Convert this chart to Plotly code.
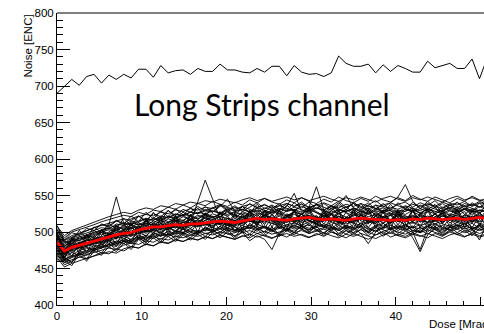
import plotly.graph_objects as go

dose = [0.0, 0.875, 1.75, 2.625, 3.5, 4.375, 5.25, 6.125, 7.0, 7.875,
        8.75, 9.625, 10.5, 11.375, 12.25, 13.125, 14.0, 14.875, 15.75, 16.625,
        17.5, 18.375, 19.25, 20.125, 21.0, 21.875, 22.75, 23.625, 24.5, 25.375,
        26.25, 27.125, 28.0, 28.875, 29.75, 30.625, 31.5, 32.375, 33.25, 34.125,
        35.0, 35.875, 36.75, 37.625, 38.5, 39.375, 40.25, 41.125, 42.0, 42.875,
        43.75, 44.625, 45.5, 46.375, 47.25, 48.125, 49.0, 49.875, 50.75]

long_strip = [690, 699, 709, 701, 713, 716, 704, 715, 709, 716, 711, 723, 723, 712, 728, 718, 721, 722, 716, 724,
              720, 720, 730, 722, 722, 719, 718, 724, 719, 727, 727, 714, 728, 719, 716, 717, 713, 718, 741, 731,
              727, 727, 730, 718, 729, 720, 728, 724, 719, 719, 734, 725, 728, 731, 724, 724, 737, 710, 737]

mean_noise = [486, 474, 479, 482, 484, 488, 491, 494, 496, 498, 499, 503, 505, 507, 507, 508, 510, 509, 511, 511,
              513, 514, 515, 514, 513, 515, 517, 519, 517, 518, 517, 516, 518, 519, 520, 518, 517, 518, 517, 516,
              518, 519, 518, 517, 517, 516, 517, 516, 518, 517, 519, 518, 517, 518, 519, 517, 518, 520, 518]

ch01 = [496,480,490,488,495,492,502,497,508,503,510,505,515,512,520,514,518,523,516,521,525,519,524,530,520,526,523,529,521,527,530,522,528,524,533,526,520,529,525,531,524,528,533,522,530,526,521,529,532,525,527,534,523,529,526,531,524,530,527]
ch02 = [478,462,468,475,470,480,483,479,488,484,490,493,489,497,500,494,502,499,505,498,503,507,500,506,502,509,504,511,506,500,508,503,510,505,499,511,507,502,509,504,510,506,501,508,512,503,507,510,505,499,508,512,506,503,510,507,512,505,509]
ch03 = [485,470,482,478,490,486,484,499,492,505,497,508,501,513,503,510,516,505,519,508,516,522,509,518,512,524,514,521,510,525,513,520,527,515,523,511,526,518,512,527,516,523,512,528,519,511,524,515,529,513,522,517,526,512,523,528,514,525,519]
ch04 = [500,488,493,497,502,505,510,507,515,512,518,522,516,525,521,529,523,531,527,535,529,533,538,530,536,528,534,540,532,537,531,539,535,541,533,538,530,536,542,534,539,531,537,543,535,532,538,541,534,540,536,543,533,539,537,542,535,540,538]
ch05 = [472,458,466,470,468,475,478,483,480,488,484,491,487,494,490,497,493,499,495,502,498,500,505,497,499,503,506,501,508,502,498,505,501,507,510,502,499,506,503,497,504,508,500,506,503,498,505,509,502,500,507,503,499,506,510,501,505,508,503]
ch06 = [490,476,485,480,488,494,489,498,502,495,506,500,510,503,512,507,500,514,509,517,511,506,519,512,508,521,515,510,523,517,512,524,516,510,522,514,519,525,513,520,527,515,511,523,518,512,525,520,514,522,518,525,513,521,516,524,519,527,515]
ch07 = [484,472,476,485,480,490,486,495,491,500,496,504,498,507,503,511,505,516,512,540,571,545,518,510,515,512,519,514,520,516,522,513,519,524,515,521,517,525,511,520,516,523,518,512,521,526,514,519,523,517,513,521,525,516,520,514,522,518,524]
ch08 = [482,466,478,484,486,483,495,510,548,512,497,505,500,509,504,512,506,513,508,515,510,517,512,509,516,511,518,513,520,515,511,518,514,521,516,512,519,515,522,517,513,520,516,512,519,523,514,518,521,516,520,515,522,517,513,520,516,523,518]
ch09 = [488,478,474,486,483,491,488,497,493,501,497,506,502,510,505,503,512,508,514,510,516,511,518,513,510,517,521,516,523,519,514,521,517,524,519,515,522,518,525,520,516,523,519,514,521,517,524,512,500,476,505,518,514,521,517,523,519,515,522]
ch10 = [480,465,458,474,479,476,484,489,486,494,490,499,495,503,499,506,502,509,505,512,508,515,510,506,513,509,516,512,519,514,510,517,513,520,515,511,518,514,521,516,512,519,515,521,517,513,520,516,522,518,514,521,517,523,519,515,522,518,525]
ch11 = [492,480,487,490,494,497,500,503,501,508,506,512,509,515,512,518,515,521,517,523,519,525,521,527,523,520,526,522,529,524,530,535,553,528,534,562,530,524,531,527,522,529,526,532,527,524,530,528,533,526,531,527,534,529,525,532,528,535,530]
ch12 = [505,492,500,503,507,510,514,517,520,523,521,527,524,530,528,534,531,537,533,539,536,542,538,535,541,537,544,540,546,541,538,544,540,547,542,539,545,541,548,543,540,546,542,549,544,541,547,543,550,545,542,548,544,540,546,542,549,544,541]
ch13 = [470,455,460,466,463,468,472,470,477,474,480,478,484,481,487,485,490,487,492,489,494,491,496,493,490,495,492,498,494,491,497,493,499,495,492,498,494,500,496,492,498,494,490,496,500,493,497,494,499,495,492,498,494,500,496,493,499,495,497]
ch14 = [498,485,492,495,499,502,506,504,511,509,515,513,519,516,522,520,525,522,528,525,531,528,526,532,529,535,531,527,533,530,536,532,529,535,531,538,534,530,536,533,539,535,531,537,534,540,548,565,542,532,538,535,541,537,533,539,536,542,538]
ch15 = [482,469,474,478,480,484,486,489,492,494,496,498,501,503,501,505,507,504,509,507,511,508,512,510,507,500,488,495,490,476,498,510,512,509,514,511,508,513,510,515,512,509,514,511,508,513,516,510,513,509,512,515,511,508,513,510,515,512,509]
ch16 = [494,478,485,488,492,495,499,497,503,506,504,509,512,510,515,513,518,516,521,518,523,520,525,522,527,524,521,526,523,528,525,522,527,524,530,526,523,529,538,550,533,527,524,529,526,531,527,524,530,526,532,528,525,531,527,533,529,526,532]
ch17 = [476,462,467,471,474,477,480,483,486,489,487,492,495,493,498,496,501,499,503,501,505,503,507,504,502,506,509,505,508,504,507,510,506,509,505,508,511,507,504,509,506,498,484,500,507,504,508,505,492,473,496,506,503,507,504,508,505,502,506]
ch18 = [489,476,482,486,488,491,494,497,500,502,505,507,509,511,509,513,515,513,517,515,519,517,521,518,516,520,523,519,522,520,517,521,524,520,523,519,522,525,521,518,522,525,521,524,520,523,526,522,519,523,520,524,521,525,522,519,505,489,512]
ch19 = [468,458,462,466,469,472,475,478,476,482,485,483,488,486,491,489,494,492,496,494,498,496,500,497,495,499,502,498,501,497,500,503,499,502,498,501,504,500,497,502,499,503,500,496,501,504,500,497,502,499,503,500,496,501,504,499,502,498,501]
ch20 = [497,483,490,493,496,500,503,506,509,512,510,515,518,516,521,519,524,522,527,525,529,527,535,545,528,531,528,533,530,526,532,529,534,530,527,533,530,535,531,528,533,530,536,532,529,534,531,536,532,529,535,532,528,534,531,536,533,529,534]
ch21 = [483,470,476,479,482,485,487,490,493,496,494,499,502,500,505,503,508,506,510,508,512,509,514,511,508,513,516,512,515,512,509,514,517,513,516,512,515,518,514,511,515,518,514,517,513,516,519,515,512,516,513,517,514,518,515,512,517,514,516]
ch22 = [503,489,495,498,502,506,509,512,515,518,516,521,524,522,527,525,530,528,532,530,534,532,536,533,531,535,538,534,537,533,536,539,535,538,534,537,540,536,533,538,535,539,536,532,537,540,536,533,538,535,539,536,532,537,540,535,538,534,537]
ch23 = [475,466,472,479,474,482,478,487,483,491,487,495,490,499,494,502,497,505,500,496,507,501,498,510,503,499,512,505,500,513,506,501,514,507,502,515,508,503,514,507,502,513,506,501,512,505,510,503,508,500,511,505,509,502,507,512,504,509,506]
ch24 = [508,495,502,506,510,513,517,521,524,527,525,530,533,531,536,534,539,537,541,539,543,541,545,542,540,544,547,543,546,542,545,548,544,547,543,546,549,545,542,547,544,548,545,541,546,549,545,542,547,544,548,545,541,546,549,544,547,543,546]
ch25 = [465,452,457,461,464,467,470,473,471,477,480,478,483,481,486,484,489,487,491,489,493,491,495,492,490,494,497,493,496,492,495,498,494,497,493,496,499,495,492,497,494,498,495,491,496,499,495,492,497,494,498,495,491,496,499,494,497,493,496]
ch26 = [487,474,480,485,489,486,493,490,499,495,503,498,508,502,511,506,514,509,517,512,520,514,510,519,515,522,517,512,524,518,513,525,519,514,526,520,515,524,519,513,525,520,515,526,521,516,524,519,514,525,520,515,523,518,524,519,514,522,517]
ch27 = [495,481,488,491,495,498,502,505,503,509,512,510,515,518,516,521,519,524,522,527,525,529,526,524,528,531,527,530,526,529,532,528,531,527,530,533,529,526,531,528,532,529,525,530,533,529,526,531,528,532,529,525,530,533,528,531,527,530,528]
ch28 = [474,460,465,469,472,475,478,481,484,487,485,490,493,491,496,494,499,497,501,499,503,501,505,502,500,504,507,503,506,502,505,508,504,507,503,506,509,505,502,507,504,508,505,501,506,509,505,502,507,504,508,505,501,506,509,504,507,503,506]
ch29 = [499,471,492,479,497,485,504,491,509,495,512,500,518,504,520,505,523,506,524,508,526,511,528,511,526,512,530,516,530,515,530,513,531,516,533,515,530,515,530,513,531,516,531,514,530,513,530,513,531,514,532,515,530,515,532,514,531,517,531]
ch30 = [474,476,467,484,472,490,479,496,484,500,487,505,493,509,495,510,498,511,499,513,501,516,503,516,501,517,505,521,505,520,505,518,506,521,508,520,505,520,505,518,506,521,506,519,505,518,505,518,506,519,507,520,505,520,507,519,506,522,506]
ch31 = [503,486,488,502,492,507,499,512,504,519,508,522,513,527,515,530,519,527,522,533,521,534,524,532,521,535,526,538,527,536,524,537,528,539,527,538,525,536,529,535,526,539,527,537,525,538,526,535,528,537,530,538,526,537,529,536,527,540,528]
ch32 = [466,465,458,473,463,478,471,484,476,488,479,493,485,497,487,499,490,498,492,501,494,503,496,504,493,506,497,509,498,507,496,505,499,509,500,508,497,507,498,505,499,508,498,507,497,506,498,505,499,507,500,508,497,507,499,506,498,510,499]
ch33 = [498,462,491,470,496,476,503,482,508,486,511,491,517,495,519,496,522,497,523,499,525,502,527,502,525,503,529,507,529,506,529,504,530,507,532,506,529,506,529,504,530,507,530,505,529,504,529,504,530,505,531,506,529,506,531,505,530,508,530]
ch34 = [492,488,483,494,490,502,496,500,509,503,514,510,511,520,513,522,516,515,524,517,526,521,520,529,518,528,524,533,523,531,522,529,531,524,535,528,522,533,525,529,531,524,533,522,530,529,521,532,527,523,534,525,531,522,535,524,532,527,531]
ch35 = [479,461,472,468,478,474,482,488,481,492,486,497,490,499,494,501,495,504,497,498,506,499,508,500,507,501,510,505,508,503,511,502,509,504,512,503,506,510,502,509,505,512,503,509,504,511,502,508,506,510,503,511,504,510,505,512,503,511,506]
ch36 = [509,489,499,496,505,502,511,508,516,510,522,514,527,518,529,521,532,523,533,525,535,527,537,528,534,530,539,533,538,532,539,530,540,533,541,532,539,532,540,530,541,533,540,531,539,530,540,531,541,532,542,533,539,532,541,531,540,534,541]
ch37 = [462,461,454,470,460,474,468,480,473,485,476,490,482,492,485,494,487,496,489,497,490,499,492,500,491,501,494,504,495,503,494,502,496,504,498,503,495,503,494,502,496,504,495,503,494,502,495,501,496,503,497,504,495,503,496,502,495,505,496]
ch38 = [486,468,485,476,481,492,485,497,490,503,494,508,500,504,512,503,515,506,518,509,516,520,511,522,509,519,514,525,512,523,513,521,515,526,514,523,511,524,513,520,514,525,512,522,511,524,510,522,515,521,513,526,511,524,514,522,512,527,515]

channels = [ch01, ch02, ch03, ch04, ch05, ch06, ch07, ch08, ch09, ch10, ch11, ch12, ch13,
            ch14, ch15, ch16, ch17, ch18, ch19, ch20, ch21, ch22, ch23, ch24, ch25, ch26,
            ch27, ch28, ch29, ch30, ch31, ch32, ch33, ch34, ch35, ch36, ch37, ch38]

FONT = "Liberation Sans, Arial, Helvetica, sans-serif"
FS = 11.5

fig = go.Figure()
for ch in channels:
    fig.add_trace(go.Scatter(x=dose, y=ch, mode="lines",
                             line=dict(color="black", width=0.9), hoverinfo="skip"))
fig.add_trace(go.Scatter(x=dose, y=long_strip, mode="lines",
                         line=dict(color="black", width=1)))
fig.add_trace(go.Scatter(x=dose, y=mean_noise, mode="lines",
                         line=dict(color="#ff0000", width=2.8)))

fig.update_layout(
    width=484, height=334,
    margin=dict(l=57, r=0, t=13, b=29),
    paper_bgcolor="white", plot_bgcolor="white",
    showlegend=False,
    font=dict(family=FONT, size=FS, color="black"),
    xaxis=dict(range=[0, 50.41], showline=True, linecolor="black", linewidth=1,
               ticks="inside", ticklen=8, tickwidth=1, tickcolor="black",
               tick0=0, dtick=10, showgrid=False, zeroline=False,
               minor=dict(dtick=2, ticks="inside", ticklen=4, tickcolor="black", showgrid=False),
               tickfont=dict(family=FONT, size=FS, color="black")),
    yaxis=dict(range=[400, 800], showline=True, linecolor="black", linewidth=1,
               ticks="inside", ticklen=13, tickwidth=1, tickcolor="black",
               tick0=400, dtick=50, showgrid=False, zeroline=False,
               minor=dict(dtick=10, ticks="inside", ticklen=6, tickcolor="black", showgrid=False),
               tickfont=dict(family=FONT, size=FS, color="black")),
    shapes=[dict(type="line", xref="paper", yref="paper", x0=0, x1=1, y0=1, y1=1,
                 line=dict(color="black", width=1))],
    annotations=[
        dict(text="Long Strips channel", xref="paper", yref="paper", x=0.48, y=0.69,
             xanchor="center", yanchor="middle", showarrow=False,
             font=dict(family="Lato, Open Sans, sans-serif", size=30, color="black")),
        dict(text="Noise [ENC]", xref="paper", yref="paper", x=-0.07, y=1.0,
             xanchor="center", yanchor="top", textangle=-90, showarrow=False,
             font=dict(family=FONT, size=FS, color="black")),
        dict(text="Dose [Mrad]", xref="paper", yref="paper", x=0.866, y=-0.066,
             xanchor="left", yanchor="middle", showarrow=False,
             font=dict(family=FONT, size=FS, color="black")),
    ],
)

fig.write_html("out.html")
